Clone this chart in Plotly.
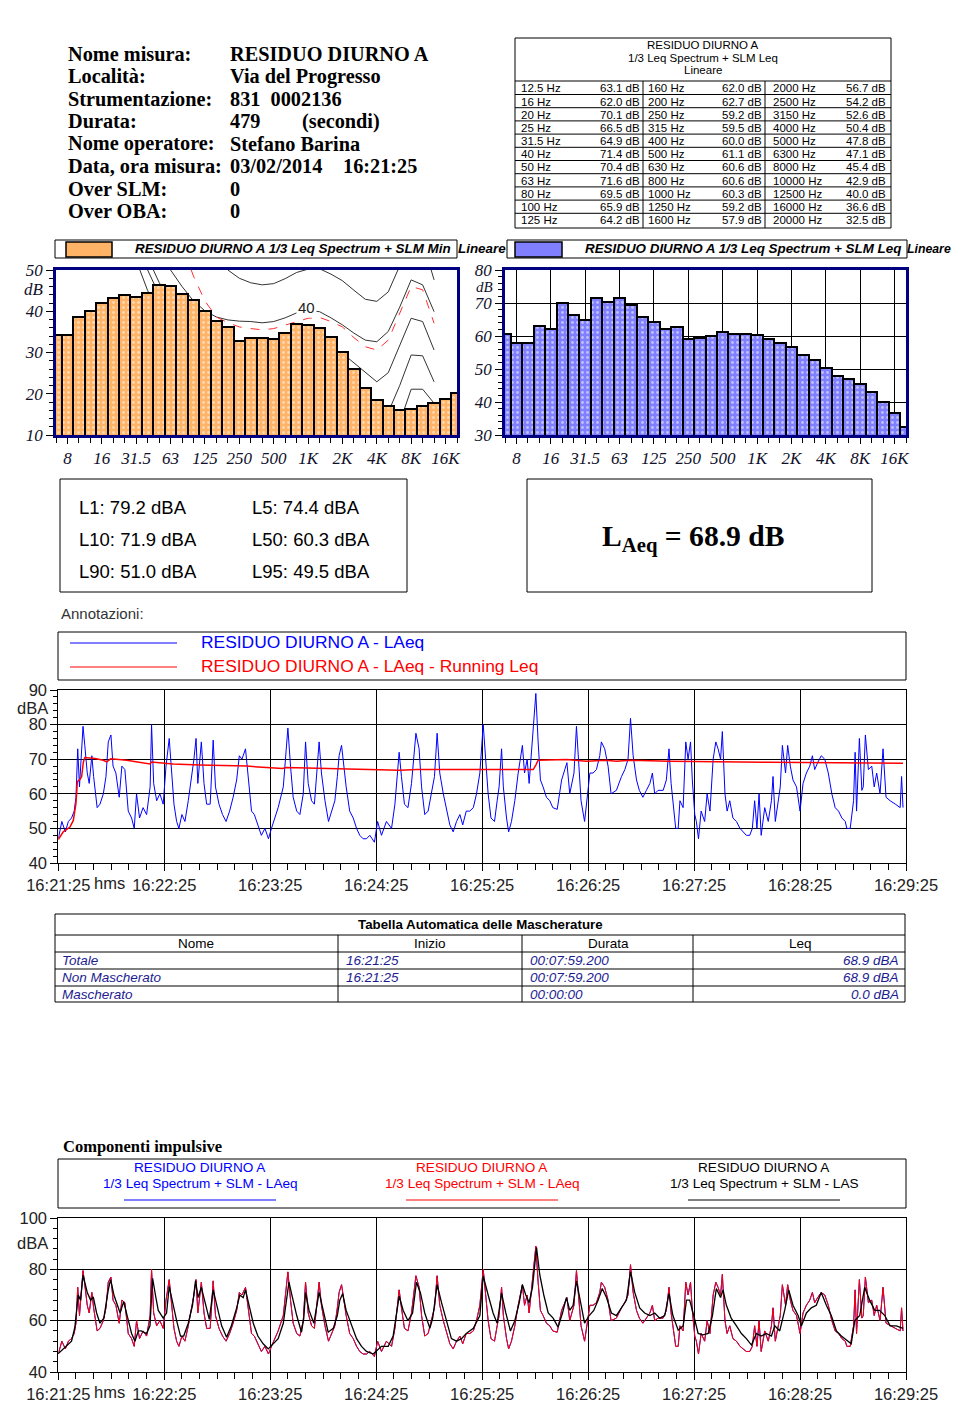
import plotly.graph_objects as go

# ---------------- DATA ----------------
header_labels = ["Nome misura:", "Località:", "Strumentazione:", "Durata:",
                 "Nome operatore:", "Data, ora misura:", "Over SLM:", "Over OBA:"]
header_values = ["RESIDUO DIURNO A", "Via del Progresso", "831\u00a0\u00a00002136", "479",
                 "Stefano Barina", "03/02/2014", "0", "0"]
header_extra = ["", "", "", "(secondi)", "", "16:21:25", "", ""]

table_title = ["RESIDUO DIURNO A", "1/3 Leq Spectrum + SLM Leq", "Lineare"]
table_freqs = ["12.5 Hz", "16 Hz", "20 Hz", "25 Hz", "31.5 Hz", "40 Hz", "50 Hz", "63 Hz", "80 Hz", "100 Hz", "125 Hz",
               "160 Hz", "200 Hz", "250 Hz", "315 Hz", "400 Hz", "500 Hz", "630 Hz", "800 Hz", "1000 Hz", "1250 Hz", "1600 Hz",
               "2000 Hz", "2500 Hz", "3150 Hz", "4000 Hz", "5000 Hz", "6300 Hz", "8000 Hz", "10000 Hz", "12500 Hz",
               "16000 Hz", "20000 Hz"]
table_levels = [63.1, 62.0, 70.1, 66.5, 64.9, 71.4, 70.4, 71.6, 69.5, 65.9, 64.2,
                62.0, 62.7, 59.2, 59.5, 60.0, 61.1, 60.6, 60.6, 60.3, 59.2, 57.9,
                56.7, 54.2, 52.6, 50.4, 47.8, 47.1, 45.4, 42.9, 40.0, 36.6, 32.5]

bands = ["6.3", "8", "10", "12.5", "16", "20", "25", "31.5", "40", "50", "63", "80", "100", "125", "160",
         "200", "250", "315", "400", "500", "630", "800", "1K", "1.25K", "1.6K", "2K", "2.5K", "3.15K", "4K",
         "5K", "6.3K", "8K", "10K", "12.5K", "16K", "20K"]
band_tick_labels = ["8", "16", "31.5", "63", "125", "250", "500", "1K", "2K", "4K", "8K", "16K"]
min_spectrum = [34.2, 34.2, 38.7, 40.1, 41.9, 43.2, 44.0, 43.5, 44.5, 46.4, 46.2, 44.3, 42.7, 40.1, 37.6, 36.3,
                32.9, 33.4, 33.6, 33.3, 34.8, 36.9, 36.7, 36.0, 33.8, 30.2, 26.1, 21.5, 18.5, 17.1, 16.1, 16.3,
                17.1, 17.8, 18.8, 20.3]
leq_spectrum = [60.6, 57.9, 57.9] + table_levels

# isophonic curves on the minimum-spectrum chart (band index, dB)
iso50_x = [14, 15, 16, 17, 18, 19, 20, 21, 22, 23, 24, 25, 26, 27, 28, 29, 30, 31, 32, 33]
iso50_y = [54, 50.0, 48.0, 46.9, 46.4, 46.7, 47.9, 49.4, 50.2, 50.3, 49.0, 47.4, 45.1, 42.9, 42.4, 44.7, 51, 57.5, 57, 47.6]
iso40_x = [8.5, 10, 11, 12, 13, 14, 15, 16, 17, 18, 19, 20, 21, 22, 23, 24, 25, 26, 27, 28, 29, 30, 31, 32, 33]
iso40_y = [56, 50, 46, 42.5, 40.1, 38.6, 37.9, 37.6, 37.5, 37.2, 37.5, 38.4, 39.6, 40.2, 39.9, 38.4, 36.7, 34.7,
           33.0, 32.6, 35.1, 41, 47.6, 46.4, 39.9]
isored_x = [11.8, 12, 13, 14, 15, 16, 17, 18, 19, 20, 21, 22, 23, 24, 25, 26, 27, 28, 29, 30, 31, 32, 33]
isored_y = [50, 48.5, 42.5, 38.6, 37.2, 36.2, 35.8, 35.5, 35.8, 36.6, 37.5, 38.3, 38.5, 37.5, 36.2, 33.6, 31.4,
            30.6, 33.0, 39.5, 46.0, 45.2, 37.1]
iso30_x = [7.5, 9, 10, 11, 12, 13, 14, 16, 18, 20, 22, 24, 25, 26, 27, 28, 29, 30, 31, 32, 33]
iso30_y = [56, 47, 42, 38, 35, 33, 31.5, 30, 29.5, 29.5, 30, 31, 29.8, 27.5, 25.0, 22.9, 25.1, 31.5, 38.3, 37.5, 30.6]
iso20_x = [7, 8.5, 10, 12, 14, 16, 20, 24, 26, 27, 28, 29, 30, 31, 32, 33]
iso20_y = [56, 47, 38, 30, 24, 21, 19.5, 20, 17.5, 15, 13, 15.5, 22, 29.4, 29.2, 22.9]
iso10_x = [6.5, 8, 10, 12, 14, 16, 20, 24, 27, 28, 29, 30, 31, 32, 33]
iso10_y = [56, 45, 33, 24, 17, 13, 10, 10, 6, 4, 6, 13, 21.1, 21.1, 17.7]

stat_labels = ["L1", "L5", "L10", "L50", "L90", "L95"]
stat_values = [79.2, 74.4, 71.9, 60.3, 51.0, 49.5]
laeq_total = 68.9

time_labels = ["16:21:25", "16:22:25", "16:23:25", "16:24:25", "16:25:25", "16:26:25", "16:27:25", "16:28:25", "16:29:25"]

t_laeq = [0, 2, 4, 5.7, 7.5, 9, 10, 11, 12, 13, 14, 15, 16.4, 17.5, 19, 20, 22, 23.6, 25.5, 27, 28.3, 29.8, 31, 32.6,
          34.5, 36, 37.7, 39.6, 41.5, 43, 44.3, 46, 48, 50, 52, 52.8, 54, 55.7, 57.5, 59.4, 61, 62.8, 64, 65.5, 67,
          68.3, 70, 71.7, 73.6, 75.5, 76.8, 78, 79, 81, 82.5, 84, 86, 87.7, 89, 91, 93, 95, 97, 99, 101, 102.5, 104,
          106, 107.5, 109.4, 111, 113, 115, 117, 119, 120.7, 122.6, 124.5, 127.4, 130, 131.5, 133, 135, 136.8, 138.7,
          140, 141.5, 143.4, 145, 147.7, 149, 151, 153, 154.7, 156.6, 158, 159, 160.4, 161.7, 163, 165, 167, 168.9,
          170.7, 172.6, 174.5, 176.4, 179, 180.8, 183, 185.8, 188.7, 190.6, 193, 194.3, 196, 198, 200, 202.5, 204.3,
          205.7, 207.5, 209.4, 211.3, 213, 214.5, 216, 218, 220, 221.7, 223.6, 225.5, 227.4, 229, 231, 233, 235,
          236.8, 238.7, 240.6, 242, 243.4, 245, 247, 248.5, 249.6, 251, 252, 253.8, 255, 256.6, 258.5, 260.4, 261.7,
          262.8, 264, 265.5, 266.6, 268, 269, 270.4, 271.7, 273, 274.5, 276.4, 278.3, 280, 282.5, 285, 286.8, 288,
          289.6, 292, 293.4, 295, 296, 298, 299.4, 301, 302.8, 304.7, 306.6, 307.5, 309.4, 311.3, 313, 316, 318.9,
          320.8, 322.6, 324, 325.5, 327.4, 329, 331, 333, 335, 336.4, 337.7, 339.6, 342.5, 344.3, 345.8, 347, 348.5,
          349.6, 351, 352, 353.8, 355.3, 356.6, 358, 359, 360.4, 361.3, 362.5, 364, 366, 367.4, 369, 370.8, 372.3,
          373.6, 375, 376, 377.5, 378.7, 380.2, 382, 384, 386, 387.7, 389.6, 391.5, 393, 394.3, 395.6, 396.8, 398,
          400, 402, 403.8, 404.7, 406, 407.5, 408.8, 410, 411.8, 413, 414.5, 416, 418, 420, 421.7, 423.6, 425.5, 427,
          428.3, 430, 432, 434, 436, 438, 439.9, 441.8, 443.7, 445.6, 446.5, 448.4, 450.3, 451.2, 452, 453.6, 455,
          455.8, 457, 458.7, 460.6, 462, 463.4, 465.3, 467, 468.7, 471, 474, 476.7, 477.5, 478.3]
laeq = [47, 52, 49, 52, 53, 55, 59, 73, 62, 70, 79.5, 74, 66, 63, 71, 65, 56, 57, 60, 65, 75, 77, 68, 66,
        59, 68, 67, 55, 53, 50, 60, 53, 56, 54, 62, 80, 63, 58, 60, 57, 68, 76, 66, 57, 52,
        50, 54, 52, 58, 65, 70, 76, 63, 75, 63, 57, 57, 75.5, 62, 57, 54, 52, 55, 59, 64, 71, 70,
        73, 64, 55, 54, 51, 48, 50, 47, 50, 53, 56, 62, 79, 68, 59, 55, 54, 60,
        75, 63, 58, 57, 75, 66, 58, 52, 55, 58, 65, 71, 74, 68, 62, 55, 53, 50,
        48, 47, 47, 48, 46, 52, 48, 52, 50, 57, 72, 65, 57, 56, 63, 77.5, 73,
        62, 54, 55, 60, 65, 77.5, 66, 60, 55, 51, 49, 52, 54, 51, 55, 55, 56,
        60, 66, 80, 70, 60, 53, 52, 58, 62, 73, 62, 53, 49, 52, 58, 66, 70,
        74, 66, 70, 63, 72, 80, 89, 75, 64, 62, 59, 58, 56, 55.5, 64, 67, 69,
        60, 66, 79.5, 66, 58, 52, 58, 66, 66, 67, 71, 75, 73, 68, 60, 61, 65,
        67, 70, 81.8, 71, 64, 61, 59, 61, 63, 66, 60, 61, 61, 64, 73, 63, 55,
        50, 50, 58, 56, 75, 70, 75, 64, 54, 52, 47, 55, 52, 60, 55, 70, 75,
        73, 70, 78, 60, 55, 58, 53, 52, 50, 49, 48, 48, 50, 58, 50, 60, 48,
        56, 52, 58, 65, 52, 58, 62, 74, 66, 74, 68, 64, 62, 55, 63, 66, 68, 71,
        67, 69, 71, 70, 66, 60, 56, 55, 53, 52, 50, 50, 58, 72, 55, 76, 61,
        62, 77, 67, 68, 62, 66, 60, 73, 59, 58, 57, 56, 65, 56]

t_run = [0, 2.8, 6.6, 8.5, 10, 10.8, 12.3, 13.2, 14.2, 15, 20.8, 25.5, 27.4, 29.6, 38.7, 51.9, 52.8, 65, 80, 99,
         106.6, 118, 127, 129, 155.7, 172.6, 193.4, 203, 240.6, 268.9, 270.4, 271.7, 287.7, 293.4, 299, 310, 316,
         324, 346, 402.8, 467, 478.3]
run_leq = [46.8, 49, 50.4, 52.3, 57.2, 63.5, 64.2, 64.9, 69.2, 70.5, 70.2, 69.7, 69.2, 70.1, 69.7, 68.6, 69.2,
           68.6, 68.3, 68.0, 68.0, 67.6, 67.3, 67.6, 67.3, 67.0, 66.8, 67.0, 67.0, 67.0, 68.3, 69.7, 69.9, 69.7,
           69.4, 69.7, 69.4, 69.7, 69.4, 69.1, 68.8, 68.8]

t_las = [0, 4.7, 7.5, 9.4, 11.3, 12.6, 14, 16.4, 18.3, 19.8, 21.7, 23.6, 25.8, 28.3, 29.6, 31.5, 33.4, 35, 37, 39,
         41.5, 43.4, 45.3, 47, 50, 51.9, 53.4, 55, 56.6, 59.4, 61.3, 62.8, 64.7, 67, 69.2, 71, 73.6, 76, 77.7, 79.2,
         81, 83, 85.5, 87.7, 89.6, 92.5, 95.3, 98, 101, 102.8, 104.7, 106, 108, 110.4, 113, 116, 118.9, 121.7, 124.5,
         127.4, 130.6, 132.6, 135, 137.7, 139, 140, 142, 144.7, 147.7, 150, 152.8, 155.7, 158, 159.4, 161, 163, 166,
         168.9, 171.7, 174.5, 178.3, 180, 183, 186.8, 189.6, 193, 195.3, 198, 200.6, 202.8, 205, 207.5, 210.4, 212,
         214.5, 217, 220, 222.6, 225.5, 228.3, 231, 235, 238.7, 240.6, 243.4, 246.2, 248.5, 251, 253.4, 256, 258.5,
         261, 262.8, 264.7, 266.6, 268.5, 270.8, 272.6, 274.9, 277.4, 280.2, 283, 285.5, 287.7, 289.6, 291.5, 293.4,
         295.7, 298, 300.6, 303.2, 305.7, 308, 310.4, 313.2, 316, 318.9, 321.7, 324, 326.4, 329.2, 332, 335, 337.7,
         340.6, 343.4, 345.8, 348, 351, 353.8, 355.7, 357.5, 359.8, 362.3, 365, 368, 370.4, 372.6, 375, 376.4, 378.3,
         381, 384, 386.8, 389.6, 392.5, 395.3, 398, 400.9, 403.8, 405.7, 408.5, 411.3, 413.6, 416, 418.9, 420.8,
         423.6, 426.4, 429.2, 432, 434.9, 437.7, 440.6, 443.4, 446.2, 449, 451, 453.8, 456.6, 459.4, 462.3, 465, 468,
         471, 474.5, 478.3]
las = [47.2, 50, 52, 57.6, 70, 68, 77.8, 71, 68, 69.3, 63, 59, 61, 72, 76, 70, 66, 63, 67.4, 62,
       55, 52, 56, 56, 55, 58, 76.5, 70, 64, 61, 63, 73.3, 67, 60, 54, 54, 59, 66, 75.5, 69,
       73, 67, 60.5, 72, 66, 58, 53.5, 58, 65, 70, 69, 72, 66, 59, 54, 51, 49, 51, 53,
       59, 75, 69, 62, 55.5, 61, 71, 64, 59, 71, 64, 55.5, 57, 62, 68, 70.5, 64, 58,
       53, 50, 48, 47, 48, 50, 50, 54, 69.5, 64, 60, 63, 75, 71, 63, 57, 61,
       74, 67, 60, 53, 52, 53, 55, 57, 62, 77.4, 70, 63, 59, 70.7, 63, 56, 60,
       67, 74, 70, 67, 73, 88.5, 78, 70, 63, 61, 57.5, 63, 69, 64, 66, 75.5,
       67, 59, 62, 64, 68, 72.5, 69, 63, 62, 65, 68, 79, 71, 65, 63, 62, 63,
       61, 62, 70.5, 62, 56.3, 58, 68, 68, 62, 55, 54.5, 55, 62, 72.5, 69, 72, 66,
       61, 58, 55, 53, 50.5, 55, 54, 55, 54, 58, 56, 64, 72, 66, 62, 58,
       63, 65, 66, 71, 66, 62, 56, 54, 52.4, 51, 60, 62, 73, 68, 64, 64, 62,
       58, 58, 57]

mask_names = ["Totale", "Non Mascherato", "Mascherato"]
mask_start = ["16:21:25", "16:21:25", ""]
mask_duration = ["00:07:59.200", "00:07:59.200", "00:00:00"]
mask_leq = [68.9, 68.9, 0.0]

# ---------------- LAYOUT HELPERS ----------------
# the page body adds an 8 px margin, so the figure is drawn 8 px in from the window corner
OFF = 8
W, H = 959 - OFF, 1418 - OFF
def X(p): return (p - OFF) / W
def Y(p): return 1 - (p - OFF) / H

SERIF = "Liberation Serif, Times New Roman, serif"
SANS = "Liberation Sans, Arial, sans-serif"
NARROW = "Liberation Sans Narrow, Arial Narrow, Liberation Sans, sans-serif"
NAVY = "#000080"

annotations, shapes = [], []

def text(x, y, s, size, color="black", family=SANS, xanchor="left", bg=None):
    d = dict(x=X(x), y=Y(y), xref="paper", yref="paper", text=s, showarrow=False,
             xanchor=xanchor, yanchor="middle", borderpad=0,
             font=dict(size=size, color=color, family=family))
    if bg:
        d["bgcolor"] = bg
    annotations.append(d)

def line(x0, y0, x1, y1, color="black", width=1):
    shapes.append(dict(type="line", xref="paper", yref="paper", x0=X(x0), y0=Y(y0), x1=X(x1), y1=Y(y1),
                       line=dict(color=color, width=width)))

def rect(x0, y0, x1, y1, color="black", width=1, fill=None):
    d = dict(type="rect", xref="paper", yref="paper", x0=X(x0), y0=Y(y0), x1=X(x1), y1=Y(y1),
             line=dict(color=color, width=width))
    if fill:
        d["fillcolor"] = fill
    shapes.append(d)

# ---------------- HEADER ----------------
for i, (lab, val, ext) in enumerate(zip(header_labels, header_values, header_extra)):
    yy = 54 + i * 22.45
    text(67, yy, "<b>%s</b>" % lab, 20.3, family=SERIF)
    text(229, yy, "<b>%s</b>" % val, 20.3, family=SERIF)
    if ext:
        text(301 if i == 3 else 342, yy, "<b>%s</b>" % ext, 20.3, family=SERIF)

# ---------------- TOP-RIGHT TABLE ----------------
rect(515, 38, 891, 228)
for k, s in enumerate(table_title):
    text(703, 45 + k * 12.6, s, 11.5, xanchor="center")
line(515, 81, 891, 81)
line(643, 81, 643, 228)
line(765, 81, 765, 228)
rows = 11
for r in range(rows - 1):
    line(515, 94.5 + r * 13.2, 891, 94.5 + r * 13.2)
for i, (f, v) in enumerate(zip(table_freqs, table_levels)):
    c, r = divmod(i, rows)
    yy = 88.3 + r * 13.2
    text([520, 647, 772][c], yy, f, 11.5)
    text([641, 763, 887][c], yy, "%.1f dB" % v, 11.5, xanchor="right")

# ---------------- SPECTRUM LEGENDS ----------------
rect(55, 240, 457, 258)
rect(66, 242, 112, 257, width=1.5, fill="#FFB366")
text(134, 249, "<b><i>RESIDUO DIURNO A 1/3 Leq Spectrum + SLM Min</i></b>", 13.4)
text(457, 249, "<b><i>Lineare</i></b>", 13.4)
rect(507, 240, 907, 258)
rect(515, 242, 562, 257, width=1.5, fill="#8080FF")
text(584, 249, "<b><i>RESIDUO DIURNO A 1/3 Leq Spectrum + SLM Leq</i></b>", 13.4)
text(906, 249, "<b><i>Lineare</i></b>", 12.3)
text(34, 290, "<i>dB</i>", 17, color="#10102a", family=SERIF, xanchor="center")
text(484, 286.5, "<i>dB</i>", 15, color="#10102a", family=SERIF, xanchor="center")

# ---------------- STAT BOXES ----------------
rect(60, 479, 407, 592)
for i, (lab, v) in enumerate(zip(stat_labels, stat_values)):
    r, c = divmod(i, 2)
    text([78, 251][c], 507 + r * 32.3, "%s: %.1f dBA" % (lab, v), 18.5)
rect(527, 479, 872, 592)
text(693, 538, "<b>L<sub>Aeq</sub> = %.1f dB</b>" % laeq_total, 29.6, family=SERIF, xanchor="center")

text(60, 613, "Annotazioni:", 15, color="#333333")

# ---------------- TIME HISTORY LEGEND ----------------
rect(58, 632, 906, 680)
line(70, 643, 177, 643, color="#0000ff")
line(70, 667, 177, 667, color="#ff0000")
text(200, 642, "RESIDUO DIURNO A - LAeq", 17.4, color="#0000ff")
text(200, 666, "RESIDUO DIURNO A - LAeq - Running Leq", 17.4, color="#ff0000")
text(109, 883, "hms", 16.5, color="#222222", xanchor="center")
text(32, 708, "dBA", 16.5, color="#222222", xanchor="center")

# ---------------- MASK TABLE ----------------
rect(55, 914, 905, 1002)
text(480, 924, "<b>Tabella Automatica delle Mascherature</b>", 13.3, family=NARROW, xanchor="center")
for yy in [935, 952, 969, 986]:
    line(55, yy, 905, yy)
for xx in [338, 522, 693]:
    line(xx, 935, xx, 1002)
for s, xx in zip(["Nome", "Inizio", "Durata", "Leq"], [196, 430, 608, 800]):
    text(xx, 944, s, 13.5, family=NARROW, xanchor="center")
MC = "#1c1c8f"
for i in range(len(mask_names)):
    yy = 960.5 + i * 17
    text(61, yy, "<i>%s</i>" % mask_names[i], 13.5, color=MC, family=NARROW)
    if mask_start[i]:
        text(345, yy, "<i>%s</i>" % mask_start[i], 13.5, color=MC, family=NARROW)
    text(529, yy, "<i>%s</i>" % mask_duration[i], 13.5, color=MC, family=NARROW)
    text(900, yy, "<i>%.1f dBA</i>" % mask_leq[i], 13.5, color=MC, family=NARROW, xanchor="right")

# ---------------- IMPULSE LEGEND ----------------
text(62, 1146, "<b>Componenti impulsive</b>", 16.5, family=SERIF)
rect(58, 1159, 906, 1208)
for cx, col, suffix in [(200, "#0000ff", "LAeq"), (482, "#ff0000", "LAeq"), (764, "black", "LAS")]:
    text(cx, 1167, "RESIDUO DIURNO A", 13.6, color=col, xanchor="center")
    text(cx, 1183, "1/3 Leq Spectrum + SLM - %s" % suffix, 13.6, color=col, xanchor="center")
    line(cx - 76, 1200, cx + 76, 1200, color=col)
text(109, 1392, "hms", 16.5, color="#222222", xanchor="center")
text(32, 1243, "dBA", 16.5, color="#222222", xanchor="center")

# "40" isophone label
annotations.append(dict(x=21.9, y=41.0, xref="x", yref="y", text="40", showarrow=False, bgcolor="white",
                        font=dict(size=15, family=SANS, color="#222222")))

# ---------------- TRACES ----------------
fig = go.Figure()
band_idx = list(range(len(bands)))
for cx, cy, col, dash in [(iso50_x, iso50_y, "#333333", "solid"), (iso40_x, iso40_y, "#333333", "solid"),
                          (iso30_x, iso30_y, "#333333", "solid"), (iso20_x, iso20_y, "#333333", "solid"),
                          (iso10_x, iso10_y, "#333333", "solid"), (isored_x, isored_y, "#ff3030", "dash")]:
    fig.add_trace(go.Scatter(x=cx, y=cy, mode="lines", line=dict(color=col, width=1, dash=dash),
                             xaxis="x", yaxis="y", hoverinfo="skip"))
fig.add_trace(go.Bar(x=band_idx, y=min_spectrum, width=1, xaxis="x5", yaxis="y5",
                     marker=dict(color="#FFB366", line=dict(color="black", width=2),
                                 pattern=dict(shape=".", fgcolor="white", bgcolor="#FFB366", size=5, solidity=0.25))))
fig.add_trace(go.Bar(x=band_idx, y=leq_spectrum, width=1, xaxis="x2", yaxis="y2",
                     marker=dict(color="#8080FF", line=dict(color="black", width=2),
                                 pattern=dict(shape=".", fgcolor="white", bgcolor="#8080FF", size=5, solidity=0.25))))

fig.add_trace(go.Scatter(x=t_laeq, y=laeq, mode="lines", line=dict(color="#0000ff", width=1), xaxis="x3", yaxis="y3"))
fig.add_trace(go.Scatter(x=t_run, y=run_leq, mode="lines", line=dict(color="#ff0000", width=1.5), xaxis="x3", yaxis="y3"))
fig.add_trace(go.Scatter(x=t_laeq, y=laeq, mode="lines", line=dict(color="#0000ff", width=1), xaxis="x4", yaxis="y4"))
fig.add_trace(go.Scatter(x=t_laeq, y=laeq, mode="lines", line=dict(color="#ff0000", width=1), xaxis="x4", yaxis="y4"))
fig.add_trace(go.Scatter(x=t_las, y=las, mode="lines", line=dict(color="black", width=1.3), xaxis="x4", yaxis="y4"))

# ---------------- AXES ----------------
major_idx = [bands.index(b) for b in band_tick_labels]
tfont_bar = dict(family=SERIF, size=17, style="italic", color="#10102a")

def band_xaxis(dom, anchor, grid):
    return dict(domain=dom, anchor=anchor, range=[0, len(bands) - 1], tickmode="array", tickvals=major_idx,
                ticktext=band_tick_labels, ticks="outside", ticklen=6, tickcolor="black", tickfont=tfont_bar,
                showgrid=grid, gridcolor="black", gridwidth=1, zeroline=False, automargin=False,
                showline=True, mirror=True, linecolor=NAVY, linewidth=2.5,
                minor=dict(tickmode="array", tickvals=band_idx, ticks="outside", ticklen=5, tickcolor="black",
                           showgrid=False))

def band_yaxis(dom, anchor, rng, grid):
    return dict(domain=dom, anchor=anchor, range=rng, dtick=10, tick0=0, ticks="outside", ticklen=7,
                tickcolor="black", tickfont=tfont_bar, showgrid=grid, gridcolor="black", gridwidth=1,
                zeroline=False, showline=True, mirror=True, linecolor=NAVY, linewidth=2.5, automargin=False,
                minor=dict(dtick=2, ticks="outside", ticklen=4, tickcolor="black", showgrid=False))

tfont_time = dict(family=SANS, size=16.5, color="#222222")

def time_xaxis(dom, anchor):
    return dict(domain=dom, anchor=anchor, range=[0, 480], tickmode="array",
                tickvals=[60 * i for i in range(len(time_labels))], ticktext=time_labels,
                ticks="outside", ticklen=7, tickcolor="black", tickfont=tfont_time,
                showgrid=True, gridcolor="black", gridwidth=1, zeroline=False, automargin=False,
                showline=True, mirror=True, linecolor="black", linewidth=1,
                minor=dict(dtick=10, tick0=0, ticks="outside", ticklen=6, tickcolor="black", showgrid=False))

def time_yaxis(dom, anchor, rng, dt, mdt):
    return dict(domain=dom, anchor=anchor, range=rng, dtick=dt, tick0=0, ticks="outside", ticklen=7,
                tickcolor="black", tickfont=tfont_time, showgrid=True, gridcolor="black", gridwidth=1,
                zeroline=False, showline=True, mirror=True, linecolor="black", linewidth=1, automargin=False,
                minor=dict(dtick=mdt, ticks="outside", ticklen=4, tickcolor="black", showgrid=False))

bar_ydom = [Y(435), Y(270)]
fig.update_layout(
    width=W, height=H, margin=dict(l=0, r=0, t=0, b=0, pad=0, autoexpand=False),
    paper_bgcolor="white", plot_bgcolor="white",
    showlegend=False, bargap=0,
    xaxis=band_xaxis([X(56), X(457)], "y", False),
    yaxis=band_yaxis(bar_ydom, "x", [10, 50], False),
    xaxis5=dict(overlaying="x", anchor="y5", range=[0, len(bands) - 1], visible=False, automargin=False),
    yaxis5=dict(overlaying="y", anchor="x5", range=[10, 50], visible=False, automargin=False),
    xaxis2=band_xaxis([X(505), X(906)], "y2", True),
    yaxis2=band_yaxis(bar_ydom, "x2", [30, 80], True),
    xaxis3=time_xaxis([X(58.3), X(906)], "y3"),
    yaxis3=time_yaxis([Y(863), Y(690)], "x3", [40, 90], 10, 2),
    xaxis4=time_xaxis([X(58.3), X(906)], "y4"),
    yaxis4=time_yaxis([Y(1372), Y(1218)], "x4", [40, 100], 20, 4),
    annotations=annotations, shapes=shapes,
)

fig.write_html("out.html")
